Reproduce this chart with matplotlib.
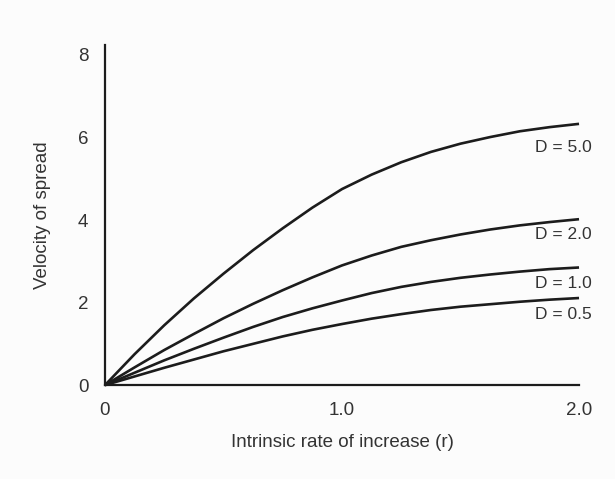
import matplotlib
matplotlib.use("Agg")
import matplotlib.pyplot as plt

plt.rcParams['font.family'] = ['Liberation Sans', 'DejaVu Sans']

# Intrinsic rate of increase (r)
r = [0.0, 0.125, 0.25, 0.375, 0.5, 0.625, 0.75, 0.875, 1.0,
     1.125, 1.25, 1.375, 1.5, 1.625, 1.75, 1.875, 2.0]

# Velocity of spread for each diffusion coefficient D
v_d50 = [0.0, 0.75, 1.45, 2.10, 2.70, 3.27, 3.80, 4.30, 4.75,
         5.10, 5.40, 5.65, 5.85, 6.01, 6.15, 6.25, 6.33]
v_d20 = [0.0, 0.43, 0.85, 1.24, 1.62, 1.97, 2.30, 2.61, 2.90,
         3.14, 3.35, 3.51, 3.65, 3.77, 3.87, 3.95, 4.02]
v_d10 = [0.0, 0.30, 0.60, 0.88, 1.15, 1.41, 1.65, 1.86, 2.05,
         2.23, 2.38, 2.50, 2.60, 2.68, 2.75, 2.81, 2.85]
v_d05 = [0.0, 0.21, 0.42, 0.62, 0.82, 1.00, 1.18, 1.34, 1.48,
         1.61, 1.72, 1.82, 1.90, 1.96, 2.02, 2.07, 2.11]

curve_labels = ["D = 5.0", "D = 2.0", "D = 1.0", "D = 0.5"]
label_y = [5.75, 3.64, 2.47, 1.72]

x_ticks = [0, 1.0, 2.0]
x_ticklabels = ["0", "1.0", "2.0"]
y_ticks = [0, 2, 4, 6, 8]

bg = '#fcfcfc'
ink = '#1c1c1c'
text_col = '#333333'

fig = plt.figure(figsize=(6.15, 4.79), dpi=100, facecolor=bg)
ax = fig.add_axes([0.1707, 0.196, 0.7708, 0.710], facecolor=bg)

for v in (v_d50, v_d20, v_d10, v_d05):
    ax.plot(r, v, color=ink, lw=1.9, solid_capstyle='butt',
            solid_joinstyle='round', clip_on=False, zorder=3)

for lab, ly in zip(curve_labels, label_y):
    ax.text(1.814, ly, lab, fontsize=12.5, color=text_col, ha='left', va='center')

ax.set_xlim(0, 2.0)
ax.set_ylim(0, 8.24)
ax.set_xticks(x_ticks)
ax.set_xticklabels(x_ticklabels)
ax.set_yticks(y_ticks)
ax.tick_params(axis='both', length=0, labelsize=13.5, colors=text_col)
ax.tick_params(axis='x', pad=12)
ax.tick_params(axis='y', pad=12)

for side in ('top', 'right'):
    ax.spines[side].set_visible(False)
for side in ('left', 'bottom'):
    ax.spines[side].set_color(ink)
    ax.spines[side].set_linewidth(1.6)

ax.set_xlabel("Intrinsic rate of increase (r)", fontsize=13.5, color=text_col, labelpad=11)
ax.set_ylabel("Velocity of spread", fontsize=13.5, color=text_col, labelpad=19)

fig.savefig("out.png", dpi=100, facecolor=bg)
